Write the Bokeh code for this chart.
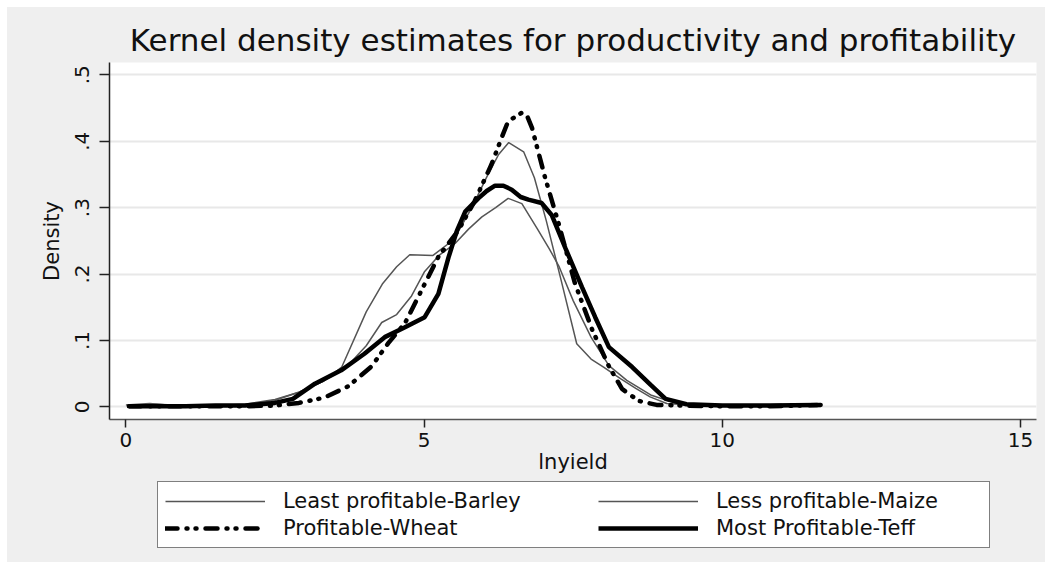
from bokeh.plotting import figure
from bokeh.layouts import column
from bokeh.models import Range1d, FixedTicker, CustomJSTickFormatter, Legend, LegendItem
from bokeh.embed import file_html
from bokeh.resources import INLINE

TITLE = "Kernel density estimates for productivity and profitability"
X_LABEL = "lnyield"
Y_LABEL = "Density"
X_TICKS = [0, 5, 10, 15]
Y_TICKS = [0, 0.1, 0.2, 0.3, 0.4, 0.5]

labels = ["Least profitable-Barley", "Less profitable-Maize", "Profitable-Wheat", "Most Profitable-Teff"]

barley_x = [0.0, 0.4, 0.8, 1.5, 2.0, 2.5, 2.9, 3.3, 3.62, 4.03, 4.3, 4.54, 4.76, 5.15, 5.5, 5.8, 6.05,
            6.25, 6.42, 6.67, 6.85, 7.05, 7.3, 7.56, 7.8, 8.01, 8.3, 8.55, 8.79, 9.07, 9.6, 10.2, 10.8]
barley_y = [0.003, 0.005, 0.002, 0.002, 0.003, 0.010, 0.022, 0.038, 0.060, 0.143, 0.185, 0.211, 0.229, 0.228,
            0.252, 0.300, 0.346, 0.380, 0.398, 0.384, 0.345, 0.280, 0.190, 0.095, 0.072, 0.060, 0.042, 0.028,
            0.015, 0.005, 0.002, 0.002, 0.001]

maize_x = [0.05, 0.5, 1.0, 1.5, 2.0, 2.5, 2.9, 3.3, 3.7, 4.03, 4.29, 4.54, 4.79, 5.01, 5.25, 5.52, 5.75, 5.97,
           6.2, 6.41, 6.64, 6.9, 7.1, 7.26, 7.5, 7.8, 8.1, 8.4, 8.8, 9.2, 9.8, 10.5, 11.2]
maize_y = [0.002, 0.004, 0.002, 0.002, 0.004, 0.011, 0.022, 0.038, 0.060, 0.092, 0.127, 0.139, 0.167, 0.204,
           0.228, 0.246, 0.268, 0.286, 0.300, 0.314, 0.306, 0.268, 0.238, 0.212, 0.160, 0.105, 0.062, 0.040,
           0.018, 0.006, 0.002, 0.001, 0.001]

wheat_x = [0.05, 0.5, 1.0, 1.5, 2.0, 2.5, 2.9, 3.33, 3.73, 4.12, 4.40, 4.68, 4.96, 5.24, 5.57, 5.85, 6.13, 6.30,
           6.41, 6.55, 6.64, 6.72, 6.81, 7.03, 7.26, 7.53, 7.82, 8.10, 8.32, 8.6, 8.9, 9.3, 10.0, 10.8, 11.3, 11.65]
wheat_y = [0.001, 0.001, 0.001, 0.001, 0.001, 0.002, 0.006, 0.014, 0.031, 0.061, 0.096, 0.126, 0.176, 0.226,
           0.265, 0.310, 0.365, 0.405, 0.430, 0.438, 0.443, 0.440, 0.420, 0.345, 0.275, 0.186, 0.116, 0.061,
           0.027, 0.009, 0.003, 0.002, 0.001, 0.001, 0.002, 0.003]

teff_x = [0.05, 0.5, 1.0, 1.5, 2.0, 2.5, 2.8, 3.17, 3.61, 4.0, 4.34, 4.68, 5.01, 5.24, 5.41, 5.55, 5.69, 5.91,
          6.05, 6.19, 6.33, 6.47, 6.62, 6.75, 6.97, 7.14, 7.37, 7.65, 7.87, 8.10, 8.49, 8.8, 9.05, 9.4, 10.0,
          10.8, 11.6]
teff_y = [0.001, 0.001, 0.001, 0.002, 0.002, 0.006, 0.012, 0.035, 0.055, 0.080, 0.105, 0.120, 0.135, 0.170,
          0.225, 0.265, 0.294, 0.314, 0.325, 0.333, 0.333, 0.327, 0.316, 0.312, 0.307, 0.289, 0.239, 0.180,
          0.135, 0.090, 0.060, 0.033, 0.012, 0.004, 0.002, 0.002, 0.003]

FONT = "DejaVu Sans"
BG = "#efefef"

STYLES = [dict(line_color="#555555", line_width=1.5),
          dict(line_color="#555555", line_width=1.5),
          dict(line_color="black", line_width=4.5, line_dash="12 9 1 8 1 9", line_cap="round"),
          dict(line_color="black", line_width=4.5)]

series = [(barley_x, barley_y), (maize_x, maize_y), (wheat_x, wheat_y), (teff_x, teff_y)]

# ---- main plot ----
p = figure(width=1038, height=474, output_backend="svg", toolbar_location=None,
           x_range=Range1d(-0.275, 15.27), y_range=Range1d(-0.019, 0.5185),
           min_border_left=102, min_border_right=9, min_border_top=55, min_border_bottom=62)
p.background_fill_color = "white"
p.border_fill_color = BG
p.outline_line_color = None

p.title.text = TITLE
p.title.align = "center"
p.title.text_font = FONT
p.title.text_font_size = "31px"
p.title.text_font_style = "normal"
p.title.text_color = "#111111"

p.xgrid.visible = False
p.ygrid.grid_line_color = "#e8e8e8"
p.ygrid.grid_line_width = 2

p.xaxis.ticker = FixedTicker(ticks=X_TICKS)
p.yaxis.ticker = FixedTicker(ticks=Y_TICKS)
p.yaxis.formatter = CustomJSTickFormatter(code="return tick == 0 ? '0' : tick.toFixed(1).replace(/^0/, '');")
p.yaxis.major_label_orientation = "vertical"
p.xaxis.axis_label = X_LABEL
p.yaxis.axis_label = Y_LABEL

for ax in (p.xaxis[0], p.yaxis[0]):
    ax.major_label_text_font = FONT
    ax.major_label_text_font_size = "20px"
    ax.major_label_text_color = "#111111"
    ax.axis_label_text_font = FONT
    ax.axis_label_text_font_size = "21px"
    ax.axis_label_text_font_style = "normal"
    ax.axis_label_text_color = "#111111"
    ax.minor_tick_line_color = None
    ax.major_tick_in = 0
    ax.major_tick_line_color = "#222222"
    ax.major_tick_line_width = 1.5
    ax.axis_line_width = 1.5

p.xaxis.axis_line_color = "#555555"
p.yaxis.axis_line_color = "#222222"
p.xaxis.major_tick_out = 8
p.yaxis.major_tick_out = 10
p.xaxis.major_label_standoff = 5
p.yaxis.major_label_standoff = 10
p.xaxis.axis_label_standoff = 0
p.yaxis.axis_label_standoff = 9

for (xs, ys), st in zip(series, STYLES):
    p.line(xs, ys, **st)

# ---- legend strip below the plot (same series, drawn off-range so only the legend shows) ----
lg = figure(width=1038, height=81, output_backend="svg", toolbar_location=None,
            x_range=Range1d(-100, -99), y_range=Range1d(-100, -99),
            min_border_left=0, min_border_right=0, min_border_top=0, min_border_bottom=0)
lg.background_fill_alpha = 0
lg.border_fill_color = BG
lg.outline_line_color = None
lg.xaxis.visible = False
lg.yaxis.visible = False
lg.grid.visible = False

proxies = [lg.line(xs, ys, **st) for (xs, ys), st in zip(series, STYLES)]


def style_legend(leg):
    leg.label_text_font = FONT
    leg.label_text_font_size = "21px"
    leg.label_text_color = "#111111"
    leg.glyph_width = 100
    leg.glyph_height = 20
    leg.label_standoff = 18
    leg.label_height = 20
    leg.spacing = 3
    leg.padding = 7
    leg.margin = 0


leg1 = Legend(items=[LegendItem(label=labels[0], renderers=[proxies[0]]),
                     LegendItem(label=labels[2], renderers=[proxies[2]])],
              location=(48, 14))
style_legend(leg1)
leg1.label_width = 699
leg1.border_line_color = "black"
leg1.border_line_width = 1
leg1.background_fill_color = "white"
leg1.background_fill_alpha = 1

leg2 = Legend(items=[LegendItem(label=labels[1], renderers=[proxies[1]]),
                     LegendItem(label=labels[3], renderers=[proxies[3]])],
              location=(489, 22))
style_legend(leg2)
leg2.label_width = 200
leg2.border_line_color = None
leg2.background_fill_alpha = 0

lg.add_layout(leg1, "center")
lg.add_layout(leg2, "center")

layout = column(p, lg, spacing=0, margin=(7, 0, 0, 7), styles={"background-color": BG})
open("out.html", "w").write(file_html(layout, INLINE))
